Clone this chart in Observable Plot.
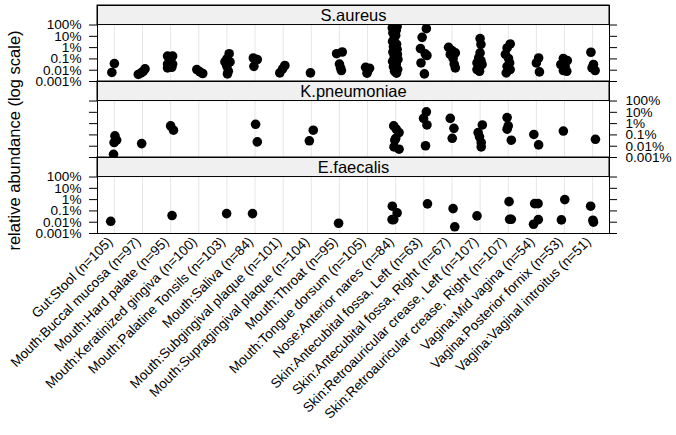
<!DOCTYPE html>
<html>
<head>
<meta charset="utf-8">
<script src="https://cdn.jsdelivr.net/npm/d3@7"></script>
<script src="https://cdn.jsdelivr.net/npm/@observablehq/plot@0.6"></script>
<style>
  html, body { margin: 0; padding: 0; background: #fff; }
  #chart { width: 676px; height: 435px; }
  svg { font-family: "Liberation Sans", Arial, Helvetica, sans-serif; }
</style>
</head>
<body>
<div id="chart"></div>
<script>
// ---- data ----
const categories = [
  "Gut:Stool (n=105)",
  "Mouth:Buccal mucosa (n=97)",
  "Mouth:Hard palate (n=95)",
  "Mouth:Keratinized gingiva (n=100)",
  "Mouth:Palatine Tonsils (n=103)",
  "Mouth:Saliva (n=84)",
  "Mouth:Subgingival plaque (n=101)",
  "Mouth:Supragingival plaque (n=104)",
  "Mouth:Throat (n=95)",
  "Mouth:Tongue dorsum (n=105)",
  "Nose:Anterior nares (n=84)",
  "Skin:Antecubital fossa, Left (n=63)",
  "Skin:Antecubital fossa, Right (n=67)",
  "Skin:Retroauricular crease, Left (n=107)",
  "Skin:Retroauricular crease, Right (n=107)",
  "Vagina:Mid vagina (n=54)",
  "Vagina:Posterior fornix (n=53)",
  "Vagina:Vaginal introitus (n=51)"
];
const species = ["S.aureus", "K.pneumoniae", "E.faecalis"];
const yTicks = [0.001, 0.01, 0.1, 1, 10, 100];
const yTickLabels = ["0.001%", "0.01%", "0.1%", "1%", "10%", "100%"];
const yLabel = "relative abundance (log scale)";

// [category number (1-based), relative abundance in %, horizontal jitter]
const sAureus = [
  [1,0.039,0.0],[1,0.0063,-0.09],
  [2,0.0042,-0.15],[2,0.0058,-0.05],[2,0.0081,0.03],[2,0.013,0.09],
  [3,0.18,-0.11],[3,0.18,0.07],[3,0.072,-0.02],[3,0.035,-0.11],[3,0.035,0.07],[3,0.016,-0.11],[3,0.018,0.04],
  [4,0.0115,-0.07],[4,0.0071,0.04],[4,0.0051,0.14],
  [5,0.29,0.08],[5,0.10,0.0],[5,0.054,-0.07],[5,0.054,0.11],[5,0.022,0.0],[5,0.0081,0.05],[5,0.0047,0.02],
  [6,0.12,-0.06],[6,0.087,0.08],[6,0.022,-0.04],
  [7,0.026,0.06],[7,0.013,-0.02],[7,0.0058,-0.12],
  [8,0.0058,-0.03],
  [9,0.29,-0.1],[9,0.41,0.1],[9,0.035,0.0],[9,0.0093,0.07],[9,0.016,0.04],
  [10,0.018,-0.07],[10,0.0093,0.01],[10,0.0055,-0.02],[10,0.015,0.07],
  [11,90,-0.08],[11,75,0.05],[11,55,-0.12],[11,35,0.02],[11,20,-0.1],[11,12,0.0],[11,6,-0.06],
  [11,3.5,-0.11],[11,2,0.03],[11,1.2,-0.08],[11,0.7,0.05],[11,0.4,-0.1],[11,0.25,0.06],[11,0.15,-0.05],
  [11,0.09,0.08],[11,0.06,-0.11],[11,0.035,0.02],[11,0.02,-0.08],[11,0.012,0.07],[11,0.008,-0.04],[11,0.0055,0.03],
  [12,48,0.09],[12,8.1,-0.06],[12,0.83,-0.12],[12,0.28,0.05],[12,0.2,0.11],[12,0.044,-0.1],[12,0.0047,0.02],
  [13,1.07,-0.12],[13,0.55,0.0],[13,0.34,0.12],[13,0.25,-0.06],[13,0.11,0.04],[13,0.035,0.08],[13,0.016,0.12],
  [14,6.3,0.0],[14,1.9,0.03],[14,0.34,0.0],[14,0.12,-0.05],[14,0.072,0.03],[14,0.044,-0.11],[14,0.032,0.07],
  [14,0.016,-0.05],[14,0.0081,-0.02],[14,0.0115,-0.11],
  [15,2.1,0.07],[15,0.93,-0.04],[15,0.25,-0.1],[15,0.11,0.01],[15,0.044,0.05],[15,0.022,-0.04],[15,0.0115,0.07],[15,0.0058,-0.07],
  [16,0.12,0.08],[16,0.044,0.0],[16,0.0071,0.11],
  [17,0.11,-0.04],[17,0.072,0.1],[17,0.032,-0.13],[17,0.022,0.02],[17,0.0093,-0.04],[17,0.0081,0.08],
  [18,0.39,-0.06],[18,0.032,0.03],[18,0.0093,0.09],[18,0.016,-0.02]
];
const kPneumoniae = [
  [1,0.082,0.02],[1,0.034,0.08],[1,0.021,-0.01],[1,0.0019,-0.03],
  [2,0.017,-0.03],
  [3,0.63,0.0],[3,0.26,0.1],
  [6,0.87,0.02],[6,0.024,0.08],
  [8,0.26,0.07],[8,0.03,-0.07],
  [11,0.63,-0.07],[11,0.32,0.02],[11,0.16,0.12],[11,0.05,0.0],[11,0.034,-0.03],[11,0.0087,-0.06],[11,0.0054,0.12],
  [12,11,0.09],[12,2.9,-0.01],[12,0.76,0.11],[12,0.011,0.06],
  [13,2.9,-0.06],[13,0.38,0.07],[13,0.05,0.01],
  [14,0.76,0.08],[14,0.16,-0.07],[14,0.068,-0.02],[14,0.021,0.04],[14,0.0087,0.04],
  [15,3.4,-0.04],[15,0.63,0.0],[15,0.32,-0.04],[15,0.034,0.11],
  [16,0.11,-0.09],[16,0.013,0.08],
  [17,0.22,-0.04],
  [18,0.041,0.1]
];
const eFaecalis = [
  [1,0.012,-0.13],
  [3,0.039,0.05],
  [5,0.058,-0.01],
  [6,0.058,-0.09],
  [9,0.0081,-0.03],
  [11,0.26,-0.12],[11,0.067,0.05],[11,0.017,-0.07],[11,0.017,-0.13],
  [12,0.42,0.13],
  [13,0.16,0.04],[13,0.0039,0.1],
  [14,0.036,-0.11],
  [15,0.66,0.03],[15,0.018,0.05],[15,0.018,0.11],
  [16,0.44,-0.06],[16,0.44,0.06],[16,0.0066,-0.1],[16,0.017,0.07],
  [17,1.0,0.01],[17,0.016,-0.11],
  [18,0.26,-0.07],[18,0.015,0.01],[18,0.01,0.03]
];
// y-axis label side per panel (lattice alternating)
const labelSide = ["left", "right", "left"];

// ---- layout ----
const W = 676, H = 435;
const mL = 97, mR = 67, mT = 4, mB = 201;
const xLo = 0.4, xHi = categories.length + 0.6;
const facetH = (H - mT - mB) / species.length;
const stripPx = 19.7;
const yTop = 0.001 * Math.pow(10, 5 * facetH / (facetH - stripPx));
const unitPx = (W - mL - mR) / (xHi - xLo);
const tickU = 8 / unitPx;
const axisFont = 13.6;

const seriesBySpecies = [sAureus, kPneumoniae, eFaecalis];
const points = seriesBySpecies.flatMap((arr, s) =>
  arr.map(([c, v, j]) => ({species: species[s], x: c + j, v}))
);
const tickLabels = species.flatMap((s, i) =>
  yTicks.map((t, k) => ({species: s, v: t, label: yTickLabels[k], side: labelSide[i]}))
);
const catIdx = categories.map((c, i) => ({name: c, i: i + 1}));

const chart = Plot.plot({
  width: W, height: H,
  marginLeft: mL, marginRight: mR, marginTop: mT, marginBottom: mB,
  style: {fontFamily: '"Liberation Sans", Arial, Helvetica, sans-serif', background: "#fff", color: "black"},
  x: {type: "linear", domain: [xLo, xHi], axis: null},
  y: {type: "log", domain: [0.001, yTop], axis: null},
  fy: {domain: species, padding: 0, axis: null},
  marks: [
    // vertical reference grid
    Plot.ruleX(catIdx, {x: "i", y1: 0.001, y2: 100, stroke: "#e6e6e6", strokeWidth: 1}),
    // points
    Plot.dot(points, {x: "x", y: "v", fy: "species", r: 4.8, fill: "black", stroke: "none"}),
    // strips
    Plot.rect(species, {fy: d => d, x1: xLo, x2: xHi, y1: 100, y2: yTop, fill: "#f0f0f0", stroke: "black", strokeWidth: 1}),
    Plot.text(species, {fy: d => d, text: d => d, x: (xLo + xHi) / 2, y: Math.sqrt(100 * yTop), fontSize: 16.5, fill: "black"}),
    Plot.frame({stroke: "black", strokeWidth: 1}),
    // y ticks on both sides
    Plot.ruleY(yTicks, {y: d => d, x1: xLo - tickU, x2: xLo, stroke: "black"}),
    Plot.ruleY(yTicks, {y: d => d, x1: xHi, x2: xHi + tickU, stroke: "black"}),
    // y tick labels alternating
    Plot.text(tickLabels.filter(d => d.side === "left"), {fy: "species", y: "v", text: "label", frameAnchor: "left", dx: -16, textAnchor: "end", fontSize: axisFont, fill: "black"}),
    Plot.text(tickLabels.filter(d => d.side === "right"), {fy: "species", y: "v", text: "label", frameAnchor: "right", dx: 16, textAnchor: "start", fontSize: axisFont, fill: "black"}),
    // x labels (bottom panel only)
    Plot.text(catIdx, {fy: () => species[species.length - 1], x: "i", text: "name", frameAnchor: "bottom", rotate: -45, textAnchor: "end", dx: -1, dy: 9, fontSize: axisFont, fill: "black"}),
    // y axis title
    Plot.text([yLabel], {fy: () => species[1], text: d => d, frameAnchor: "left", textAnchor: "middle", dx: -83, dy: 21, rotate: -90, fontSize: 16.5, fill: "black"})
  ]
});
document.getElementById("chart").appendChild(chart);
</script>
</body>
</html>
